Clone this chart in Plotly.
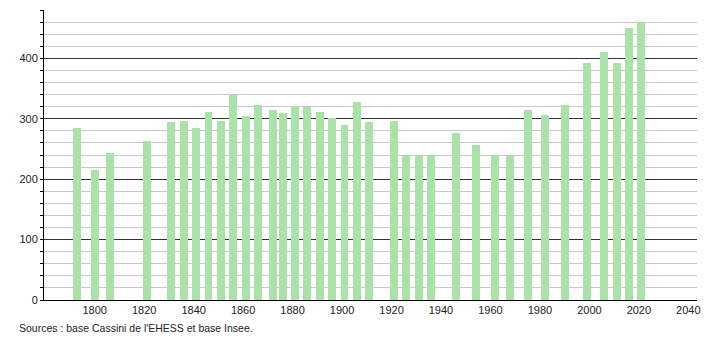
import plotly.graph_objects as go

years = [1793, 1800, 1806, 1821, 1831, 1836, 1841, 1846, 1851, 1856, 1861, 1866,
         1872, 1876, 1881, 1886, 1891, 1896, 1901, 1906, 1911, 1921, 1926, 1931,
         1936, 1946, 1954, 1962, 1968, 1975, 1982, 1990, 1999, 2006, 2011, 2016, 2021]
population = [284, 216, 243, 264, 294, 296, 284, 312, 297, 340, 304, 322,
              314, 309, 321, 320, 311, 301, 289, 327, 294, 296, 240, 238,
              240, 277, 256, 240, 238, 314, 306, 322, 393, 410, 393, 450, 460]
x_ticks = list(range(1800, 2041, 20))
source_text = "Sources : base Cassini de l'EHESS et base Insee."

fig = go.Figure()
fig.add_trace(go.Bar(x=years, y=population, width=3.2,
                     marker=dict(color="rgb(170,226,170)", line=dict(width=0))))

font = dict(family="Liberation Sans, Arial, sans-serif", size=11, color="#222")
fig.update_layout(
    width=710, height=340,
    margin=dict(l=44, r=9, t=10, b=40),
    plot_bgcolor="white", paper_bgcolor="white",
    showlegend=False, font=font, bargap=0,
    xaxis=dict(range=[1779.5, 2043.5], tickvals=x_ticks, ticktext=[str(v) for v in x_ticks],
               showgrid=False, showline=True, linecolor="#000", linewidth=1,
               ticks="", zeroline=False, tickfont=font),
    yaxis=dict(range=[0, 480], dtick=100, tick0=0, showgrid=True, gridcolor="#333",
               gridwidth=1, showline=True, linecolor="#000", linewidth=1,
               ticks="outside", ticklen=3, tickcolor="#000", zeroline=False,
               tickfont=font,
               minor=dict(dtick=20, showgrid=True, gridcolor="#c8c8c8", gridwidth=1,
                          ticks="outside", ticklen=3, tickcolor="#000")),
    annotations=[dict(text=source_text, xref="paper", yref="paper", x=-0.0416, y=-0.068,
                      xanchor="left", yanchor="top", showarrow=False,
                      font=dict(family="Liberation Sans, Arial, sans-serif", size=10.5, color="#222"))],
)
fig.write_html("out.html")
